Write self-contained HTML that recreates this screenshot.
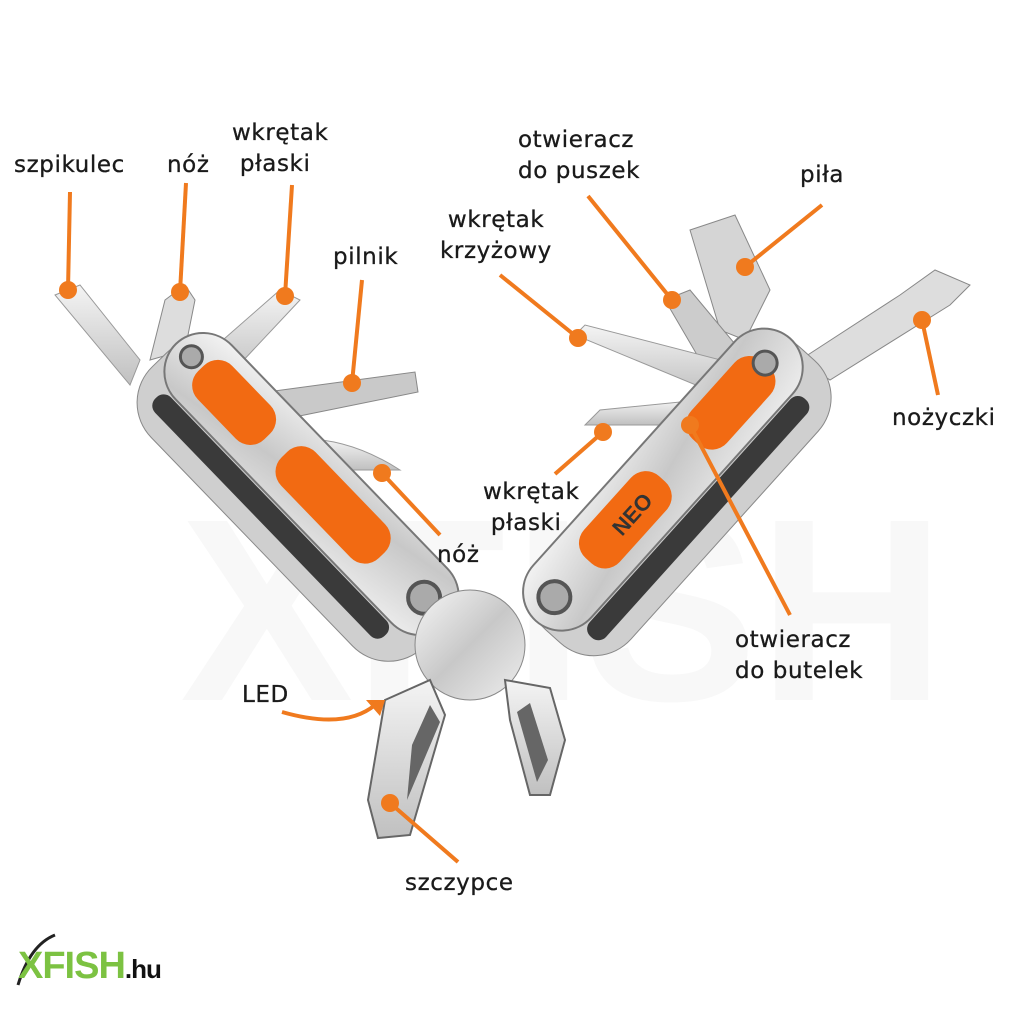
<!DOCTYPE html>
<html><head><meta charset="utf-8"><style>
body{margin:0;background:#fff;width:1024px;height:1024px;overflow:hidden;position:relative;font-family:"DejaVu Sans","Liberation Sans",sans-serif}
.t{position:absolute;font-size:23px;color:#1a1a1a;line-height:31px;white-space:nowrap;letter-spacing:0.6px;-webkit-text-stroke:0.3px #1a1a1a}
svg{position:absolute;left:0;top:0}
</style></head><body>
<svg width="1024" height="1024" viewBox="0 0 1024 1024">
<defs>
<linearGradient id="m" x1="0" y1="0" x2="1" y2="1"><stop offset="0" stop-color="#f6f6f6"/><stop offset=".5" stop-color="#c8c8c8"/><stop offset="1" stop-color="#eeeeee"/></linearGradient>
<linearGradient id="b" x1="0" y1="0" x2="0" y2="1"><stop offset="0" stop-color="#f4f4f4"/><stop offset="1" stop-color="#c0c0c0"/></linearGradient>
</defs>
<text x="180" y="700" font-size="260" font-weight="bold" fill="#f8f8f8" font-family="Liberation Sans">XFISH</text>
<polygon points="55,295 80,285 140,360 130,385" fill="url(#b)" stroke="#999"/>
<polygon points="150,360 165,300 185,285 195,300 185,350" fill="#ddd" stroke="#888"/>
<polygon points="200,360 280,290 300,300 225,380" fill="url(#b)" stroke="#999"/>
<polygon points="245,395 415,372 418,392 255,425" fill="#c9c9c9" stroke="#888"/>
<path d="M260,445 Q330,425 400,470 Q340,470 270,470Z" fill="url(#b)" stroke="#999"/>
<polygon points="690,230 735,215 770,290 745,340 720,330" fill="#d5d5d5" stroke="#888"/>
<polygon points="665,300 690,290 740,350 720,380 700,360" fill="#ccc" stroke="#888"/>
<polygon points="575,335 585,325 740,365 720,395" fill="url(#b)" stroke="#999"/>
<polygon points="800,360 900,295 935,270 970,285 950,305 830,380" fill="#ddd" stroke="#888"/>
<polygon points="585,425 600,410 700,400 700,425" fill="url(#b)" stroke="#999"/>
<g transform="translate(295,500) rotate(46)">
<rect x="-195" y="-60" width="390" height="120" rx="50" fill="#cfcfcf" stroke="#888"/>
<rect x="-170" y="18" width="330" height="22" rx="10" fill="#3a3a3a"/>
<rect x="-195" y="-62" width="390" height="78" rx="40" fill="url(#m)" stroke="#777" stroke-width="2"/>
<rect x="-160" y="-48" width="95" height="48" rx="20" fill="#f26a12"/>
<rect x="-40" y="-48" width="140" height="48" rx="20" fill="#f26a12"/>
<circle cx="-175" cy="-25" r="11" fill="#aaa" stroke="#555" stroke-width="3"/>
<circle cx="160" cy="-25" r="16" fill="#aaa" stroke="#555" stroke-width="4"/>
</g>
<g transform="translate(680,495) rotate(-48)">
<rect x="-190" y="-60" width="380" height="120" rx="50" fill="#cfcfcf" stroke="#888"/>
<rect x="-165" y="18" width="320" height="22" rx="10" fill="#3a3a3a"/>
<rect x="-190" y="-62" width="380" height="78" rx="40" fill="url(#m)" stroke="#777" stroke-width="2"/>
<rect x="50" y="-48" width="105" height="48" rx="20" fill="#f26a12"/>
<rect x="-110" y="-48" width="110" height="48" rx="20" fill="#f26a12"/>
<text x="-70" y="-15" font-size="22" font-weight="bold" fill="#333" font-family="Liberation Sans">NEO</text>
<circle cx="155" cy="-25" r="12" fill="#aaa" stroke="#555" stroke-width="3"/>
<circle cx="-160" cy="-25" r="16" fill="#aaa" stroke="#555" stroke-width="4"/>
</g>
<circle cx="470" cy="645" r="55" fill="url(#m)" stroke="#888"/>
<polygon points="385,700 430,680 445,715 410,835 378,838 368,800" fill="url(#b)" stroke="#666" stroke-width="2"/>
<polygon points="505,680 550,688 565,740 550,795 530,795 510,720" fill="url(#b)" stroke="#666" stroke-width="2"/>
<polygon points="412,745 430,705 440,722 407,800" fill="#666"/>
<polygon points="517,712 530,703 548,760 537,782" fill="#666"/>
<g stroke="#f07a1e" stroke-width="4" fill="none">
<line x1="70" y1="192" x2="68" y2="290"/>
<line x1="186" y1="183" x2="180" y2="292"/>
<line x1="292" y1="185" x2="285" y2="296"/>
<line x1="362" y1="280" x2="352" y2="383"/>
<line x1="588" y1="196" x2="672" y2="300"/>
<line x1="822" y1="205" x2="745" y2="267"/>
<line x1="500" y1="275" x2="578" y2="338"/>
<line x1="938" y1="395" x2="922" y2="320"/>
<line x1="555" y1="474" x2="603" y2="432"/>
<line x1="440" y1="535" x2="382" y2="473"/>
<line x1="790" y1="615" x2="690" y2="425"/>
<line x1="458" y1="862" x2="390" y2="803"/>
<path d="M282,712 Q345,730 375,705"/>
</g>
<polygon points="385,700 366,700 380,716" fill="#f07a1e"/>
<g fill="#f07a1e">
<circle cx="68" cy="290" r="9"/><circle cx="180" cy="292" r="9"/><circle cx="285" cy="296" r="9"/>
<circle cx="352" cy="383" r="9"/><circle cx="672" cy="300" r="9"/><circle cx="745" cy="267" r="9"/>
<circle cx="578" cy="338" r="9"/><circle cx="922" cy="320" r="9"/><circle cx="603" cy="432" r="9"/>
<circle cx="382" cy="473" r="9"/><circle cx="690" cy="425" r="9"/><circle cx="390" cy="803" r="9"/>
</g>
<path d="M18,985 Q30,945 55,935" stroke="#222" stroke-width="3" fill="none"/>
</svg>
<div class="t" style="left:14px;top:150px">szpikulec</div>
<div class="t" style="left:167px;top:150px">nóż</div>
<div class="t" style="left:232px;top:118px">wkrętak<br>&nbsp;płaski</div>
<div class="t" style="left:333px;top:242px">pilnik</div>
<div class="t" style="left:518px;top:125px">otwieracz<br>do puszek</div>
<div class="t" style="left:800px;top:160px">piła</div>
<div class="t" style="left:440px;top:205px">&nbsp;wkrętak<br>krzyżowy</div>
<div class="t" style="left:892px;top:403px">nożyczki</div>
<div class="t" style="left:483px;top:477px">wkrętak<br>&nbsp;płaski</div>
<div class="t" style="left:437px;top:540px">nóż</div>
<div class="t" style="left:735px;top:625px">otwieracz<br>do butelek</div>
<div class="t" style="left:242px;top:680px">LED</div>
<div class="t" style="left:405px;top:868px">szczypce</div>
<div style="position:absolute;left:18px;top:945px;font-family:'Liberation Sans',sans-serif;font-size:38px;font-weight:bold;color:#7cc242;letter-spacing:-1px">XFISH<span style="color:#111;font-size:26px">.hu</span></div>
</body></html>
